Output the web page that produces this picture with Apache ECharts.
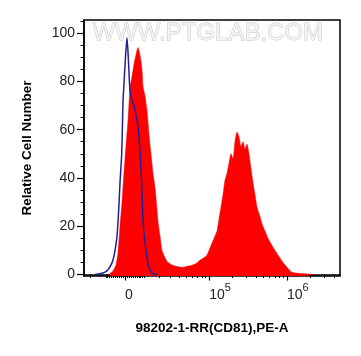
<!DOCTYPE html>
<html>
<head>
<meta charset="utf-8">
<script src="https://cdn.jsdelivr.net/npm/echarts@6/dist/echarts.min.js"></script>
<style>
html,body{margin:0;padding:0;background:#fff;}
#chart{width:361px;height:356px;}
</style>
</head>
<body>
<div id="chart"></div>
<script>
// Display positions are in biexponential "decades" (display scale), values in % of max
const redX = [3.731,3.769,3.808,3.833,3.859,3.885,3.897,3.923,3.962,3.987,4.013,4.038,4.064,4.090,4.115,4.141,4.154,4.179,4.205,4.231,4.256,4.282,4.308,4.333,4.346,4.372,4.397,4.436,4.474,4.526,4.603,4.667,4.731,4.795,4.846,4.885,4.936,4.974,5.013,5.051,5.077,5.103,5.128,5.154,5.179,5.205,5.231,5.256,5.282,5.308,5.333,5.359,5.385,5.410,5.436,5.462,5.487,5.513,5.538,5.564,5.590,5.615,5.654,5.679,5.718,5.756,5.808,5.846,5.897,5.949,6.000,6.051,6.115,6.231,6.359];
const redY = [0.5,1.5,4,9,20,30,36,48,64,77,82,87,91,94,91,85,78,74,68,58,50,42,36,27,22,16,10,7,5,4,3.2,3,3.5,4,4.8,6,7,8,11,14,16,18,23,28,33,39,42,46,50,48,55,59,57,53,55,52,54,50,44,38,33,28,24,21,18,15,12,10,7.5,5,3,1.2,0.6,0.3,0];
const blueX = [3.538,3.603,3.667,3.705,3.744,3.769,3.795,3.821,3.846,3.859,3.881,3.897,3.910,3.929,3.949,3.968,3.987,4.013,4.038,4.064,4.090,4.109,4.122,4.137,4.154,4.173,4.192,4.218,4.244,4.269,4.333];
const blueY = [0,0.3,1,2,4,6,10,16,29,38,50,71,79,90,98,88,76,72,70,66,61,54,47,38,22,15,10,4.5,2,0.5,0];

const yTickValues = [0,20,40,60,80,100];
const yMinorTickValues = [5,10,15,25,30,35,45,50,55,65,70,75,85,90,95,105];
const xMajorTickValues = [0,100000,1000000];
const xMajorTickLabels = ['0','10|5','10|6'];
const xMinorTickValues = [-20000,-10000,-9000,-8000,-7000,-6000,-5000,-4000,-3000,-2000,-1000,
  1000,2000,3000,4000,5000,6000,7000,8000,9000,
  10000,20000,30000,40000,50000,60000,70000,80000,90000,
  200000,300000,400000,500000,600000,700000,800000,900000,
  2000000,3000000,4000000];

// biexponential (arcsinh) display transform
const W = 8375;
function biex(v){ return Math.log10(W) + Math.asinh(v/(2*W))/Math.LN10; }

const xMin = 3.3974, xMax = 6.6795;
const yMin = -0.6, yMax = 105.4;

const majorPos = xMajorTickValues.map(biex);

const chart = echarts.init(document.getElementById('chart'));
chart.setOption({
  animation:false,
  backgroundColor:'#fff',
  grid:{left:84, top:20, width:256, height:256, show:true, borderColor:'#000', borderWidth:1.5, outerBoundsMode:'none', containLabel:false},
  graphic:[{
    type:'text', left:92, top:21, z:0, silent:true,
    style:{text:'WWW.PTGLAB.COM', fontSize:24, fontFamily:'Arial, Liberation Sans', fill:'#f3f3f3', stroke:'#bdbdbd', lineWidth:0.8}
  }],
  xAxis:[{
    type:'value', min:xMin, max:xMax, position:'bottom',
    splitLine:{show:false},
    axisLine:{show:true, lineStyle:{color:'#000', width:1.5}},
    axisTick:{show:true, customValues:majorPos, length:6, lineStyle:{color:'#000', width:1.2}},
    axisLabel:{show:true, customValues:majorPos, align:'left', margin:6, color:'#222',
      fontFamily:'Arial, Liberation Sans',
      formatter:function(v){
        let best=null, bd=1e9;
        majorPos.forEach((p,i)=>{ const d=Math.abs(p-v); if(d<bd){bd=d;best=xMajorTickLabels[i];} });
        const lab = best;
        if (lab.indexOf('|')>=0){ const parts = lab.split('|'); return '{b|'+parts[0]+'}{s|'+parts[1]+'}'; }
        return '{z|'+lab+'}';
      },
      rich:{
        b:{fontSize:14, lineHeight:20, verticalAlign:'bottom', color:'#222', fontFamily:'Arial, Liberation Sans'},
        s:{fontSize:11, lineHeight:10, verticalAlign:'top', color:'#222', fontFamily:'Arial, Liberation Sans'},
        z:{fontSize:14, lineHeight:20, padding:[6,0,0,0], color:'#222', fontFamily:'Arial, Liberation Sans'}
      }
    },
    name:'98202-1-RR(CD81),PE-A', nameLocation:'middle', nameGap:45,
    nameTextStyle:{fontSize:13.5, fontWeight:'bold', color:'#000', fontFamily:'Arial, Liberation Sans'}
  },{
    type:'value', min:xMin, max:xMax, position:'bottom',
    splitLine:{show:false},
    axisLine:{show:false},
    axisTick:{show:true, customValues:xMinorTickValues.map(biex), length:3.5, lineStyle:{color:'#000', width:1}},
    axisLabel:{show:false}
  }],
  yAxis:[{
    type:'value', min:yMin, max:yMax, position:'left',
    splitLine:{show:false},
    axisLine:{show:true, lineStyle:{color:'#000', width:1.5}},
    axisTick:{show:true, customValues:yTickValues, length:7, lineStyle:{color:'#000', width:1.2}},
    axisLabel:{show:true, customValues:yTickValues, margin:9, fontSize:14, color:'#222', fontFamily:'Arial, Liberation Sans'},
    name:'Relative Cell Number', nameLocation:'middle', nameGap:50,
    nameTextStyle:{fontSize:13.5, fontWeight:'bold', color:'#000', fontFamily:'Arial, Liberation Sans'}
  },{
    type:'value', min:yMin, max:yMax, position:'left',
    splitLine:{show:false},
    axisLine:{show:false},
    axisTick:{show:true, customValues:yMinorTickValues, length:3.5, lineStyle:{color:'#000', width:1}},
    axisLabel:{show:false}
  }],
  series:[{
    type:'line', xAxisIndex:0, yAxisIndex:0,
    data:redX.map((x,i)=>[x, redY[i]]),
    showSymbol:false, smooth:0.2,
    lineStyle:{color:'#ff0000', width:0.5},
    areaStyle:{color:'#ff0000', opacity:1, origin:'start'},
    z:2
  },{
    type:'line', xAxisIndex:0, yAxisIndex:0,
    data:blueX.map((x,i)=>[x, blueY[i]]),
    showSymbol:false, smooth:0.2,
    lineStyle:{color:'#1f1f9a', width:1.5},
    z:3
  }]
});
</script>
</body>
</html>
